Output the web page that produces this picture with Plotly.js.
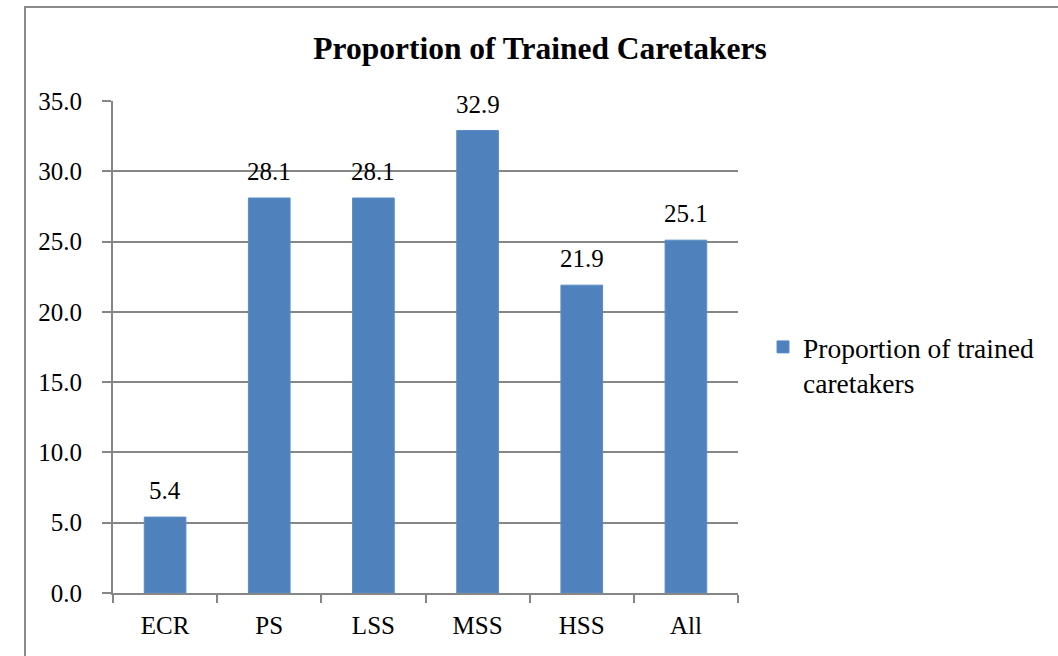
<!DOCTYPE html>
<html>
<head>
<meta charset="utf-8">
<script src="https://cdn.plot.ly/plotly-3.0.1.min.js"></script>
<style>
html,body{margin:0;padding:0;background:#fff;}
#chart{width:1058px;height:656px;}
</style>
</head>
<body>
<div id="chart"></div>
<script>
const categories = ["ECR", "PS", "LSS", "MSS", "HSS", "All"];
const values = [5.4, 28.1, 28.1, 32.9, 21.9, 25.1];
const valueLabels = ["5.4", "28.1", "28.1", "32.9", "21.9", "25.1"];
const seriesName = "Proportion of trained<br>caretakers";
const chartTitle = "Proportion of Trained Caretakers";
const yTickValues = [0, 5, 10, 15, 20, 25, 30, 35];

const FONT = "'Liberation Serif'";
const GRID = "#868686";
const BAR = "#4F81BD";

const trace = {
  type: "bar",
  x: categories,
  y: values,
  name: seriesName,
  marker: {color: BAR, line: {color: "#5B8CC6", width: 1}},
  showlegend: true,
  hoverinfo: "x+y"
};

const annotations = categories.map((c, i) => ({
  x: c, y: values[i], xref: "x", yref: "y",
  text: valueLabels[i], showarrow: false,
  yanchor: "bottom", yshift: 11,
  font: {family: FONT, size: 25, color: "#000"}
}));

const layout = {
  width: 1058, height: 656,
  margin: {l: 113, r: 320, t: 101, b: 63, pad: 0},
  paper_bgcolor: "#fff", plot_bgcolor: "#fff",
  font: {family: FONT, color: "#000"},
  title: {
    text: "<b>" + chartTitle + "</b>",
    font: {family: FONT, size: 31.5, color: "#000"},
    xref: "container", x: 540/1058, xanchor: "center",
    yref: "container", y: 1 - 48/656, yanchor: "middle"
  },
  bargap: 0.6,
  xaxis: {
    type: "category",
    showline: true, linecolor: GRID, linewidth: 2,
    ticks: "outside", tickson: "boundaries", ticklen: 8, tickwidth: 2, tickcolor: GRID,
    showgrid: false,
    tickfont: {family: FONT, size: 25, color: "#000"},
    ticklabelstandoff: 9,
    fixedrange: true
  },
  yaxis: {
    range: [0, 35],
    tickvals: yTickValues,
    ticktext: yTickValues.map(v => v.toFixed(1)),
    showline: true, linecolor: GRID, linewidth: 2,
    ticks: "outside", ticklen: 9, tickwidth: 2, tickcolor: GRID,
    showgrid: true, gridcolor: GRID, gridwidth: 2,
    zeroline: false,
    tickfont: {family: FONT, size: 25, color: "#000"},
    ticklabelstandoff: 15,
    fixedrange: true
  },
  legend: {
    x: (763 - 113) / 625, xanchor: "left",
    y: (593 - 365) / 492, yanchor: "middle",
    font: {family: FONT, size: 27.5, color: "#000"},
    valign: "top",
    itemwidth: 30,
    bgcolor: "rgba(0,0,0,0)"
  },
  annotations: annotations,
  shapes: [{
    type: "rect", xref: "paper", yref: "paper",
    x0: (25 - 113) / 625, x1: (1075 - 113) / 625,
    y0: (593 - 675) / 492, y1: (593 - 7) / 492,
    line: {color: "#8a8a8a", width: 2}, fillcolor: "rgba(0,0,0,0)",
    layer: "below"
  }]
};

Plotly.newPlot("chart", [trace], layout, {displayModeBar: false, staticPlot: true});
</script>
</body>
</html>
